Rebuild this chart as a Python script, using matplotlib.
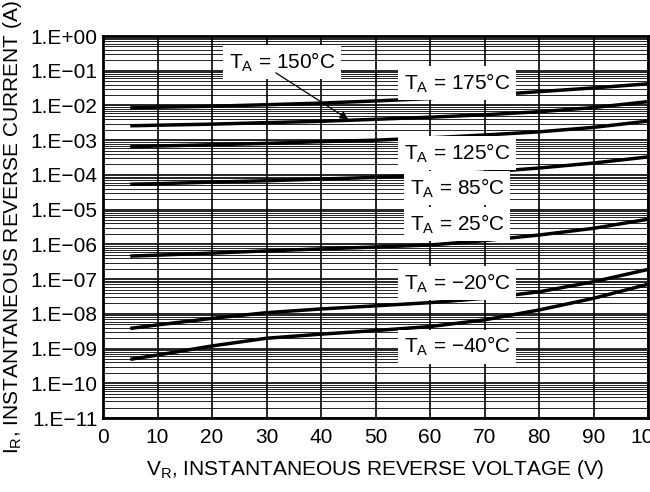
import math
import matplotlib
matplotlib.use("Agg")
import matplotlib.pyplot as plt
from matplotlib.ticker import FixedLocator, FuncFormatter, LogLocator, NullFormatter

plt.rcParams["font.family"] = ["Liberation Sans", "DejaVu Sans"]
plt.rcParams["mathtext.default"] = "regular"

# reverse voltage (V)
vr = [5, 10, 20, 30, 40, 50, 60, 70, 80, 90, 100]

# reverse current (A) for each ambient temperature
ir_175 = [8.6e-3, 8.9e-3, 9.5e-3, 1.05e-2, 1.17e-2, 1.35e-2, 1.58e-2, 1.95e-2, 2.5e-2, 3.2e-2, 4.2e-2]
ir_150 = [2.6e-3, 2.7e-3, 2.9e-3, 3.2e-3, 3.5e-3, 4.0e-3, 4.6e-3, 5.4e-3, 6.6e-3, 8.7e-3, 1.29e-2]
ir_125 = [6.5e-4, 6.8e-4, 7.4e-4, 8.1e-4, 9.1e-4, 1.0e-3, 1.17e-3, 1.41e-3, 1.74e-3, 2.34e-3, 3.55e-3]
ir_85 = [5.4e-5, 5.6e-5, 6.2e-5, 6.8e-5, 7.6e-5, 8.5e-5, 9.8e-5, 1.2e-4, 1.58e-4, 2.2e-4, 3.3e-4]
ir_25 = [4.6e-7, 4.9e-7, 5.6e-7, 6.5e-7, 7.4e-7, 8.4e-7, 9.6e-7, 1.28e-6, 1.86e-6, 2.9e-6, 5.3e-6]
ir_m20 = [3.8e-9, 4.8e-9, 7.4e-9, 1.08e-8, 1.38e-8, 1.7e-8, 2.1e-8, 2.8e-8, 4.3e-8, 8.4e-8, 1.9e-7]
ir_m40 = [4.9e-10, 6.5e-10, 1.19e-9, 1.98e-9, 2.6e-9, 3.3e-9, 4.3e-9, 6.7e-9, 1.29e-8, 2.8e-8, 7.1e-8]

curves = [ir_175, ir_150, ir_125, ir_85, ir_25, ir_m20, ir_m40]

# curve labels: text, x, y
labels = [
    ("T$_A$ = 175°C", 65, 10 ** -1.35),
    ("T$_A$ = 125°C", 65, 10 ** -3.37),
    ("T$_A$ = 85°C", 65, 10 ** -4.38),
    ("T$_A$ = 25°C", 65, 10 ** -5.41),
    ("T$_A$ = \u221220°C", 65, 10 ** -7.11),
    ("T$_A$ = \u221240°C", 65, 10 ** -8.95),
]
label_150 = ("T$_A$ = 150°C", 32.8, 10 ** -0.75)
arrow_150_from = (31.7, 10 ** -1.06)
arrow_150_to = (45, 10 ** -2.4)

x_ticks = [0, 10, 20, 30, 40, 50, 60, 70, 80, 90, 100]
y_exps = list(range(-11, 1))

FS = 15

fig = plt.figure(figsize=(6.5, 4.92), dpi=100)
ax = fig.add_axes([0.1585, 0.1504, 0.8385, 0.7764])

ax.set_yscale("log")
ax.set_xlim(0, 100)
ax.set_ylim(1e-11, 1e0)

ax.xaxis.set_major_locator(FixedLocator(x_ticks))
ax.yaxis.set_major_locator(FixedLocator([10.0 ** e for e in y_exps]))
ax.yaxis.set_minor_locator(LogLocator(base=10, subs=range(2, 10), numticks=100))
ax.yaxis.set_minor_formatter(NullFormatter())


def fmt_exp(v, pos):
    e = int(round(math.log10(v)))
    return ("1.E%+03d" % e).replace("-", "\u2212")


ax.yaxis.set_major_formatter(FuncFormatter(fmt_exp))

ax.grid(True, which="major", axis="both", color="black", linewidth=1.2)
ax.grid(True, which="minor", axis="y", color="black", linewidth=0.6)
ax.tick_params(which="both", length=0, labelsize=FS)
ax.tick_params(axis="x", pad=7)
ax.tick_params(axis="y", pad=4)

for spine in ax.spines.values():
    spine.set_linewidth(2)

for ir in curves:
    ax.plot(vr, ir, color="black", linewidth=2.5, solid_capstyle="butt", zorder=3)

box = dict(facecolor="white", edgecolor="none", pad=4)
for text, x, y in labels:
    ax.text(x, y, text, fontsize=FS, ha="center", va="center", bbox=box, zorder=4)

ax.text(label_150[1], label_150[2], label_150[0], fontsize=FS, ha="center", va="center",
        bbox=box, zorder=4)
ax.annotate("", xy=arrow_150_to, xytext=arrow_150_from,
            arrowprops=dict(arrowstyle="-|>", color="black", lw=0.9, mutation_scale=12,
                            shrinkA=0, shrinkB=0), zorder=5)

ax.set_xlabel("V$_R$, INSTANTANEOUS REVERSE VOLTAGE (V)", fontsize=FS, labelpad=8)
ax.set_ylabel("I$_R$, INSTANTANEOUS REVERSE CURRENT (A)", fontsize=FS)
ax.yaxis.set_label_coords(-0.145, 0.5)

fig.savefig("out.png", dpi=100)
